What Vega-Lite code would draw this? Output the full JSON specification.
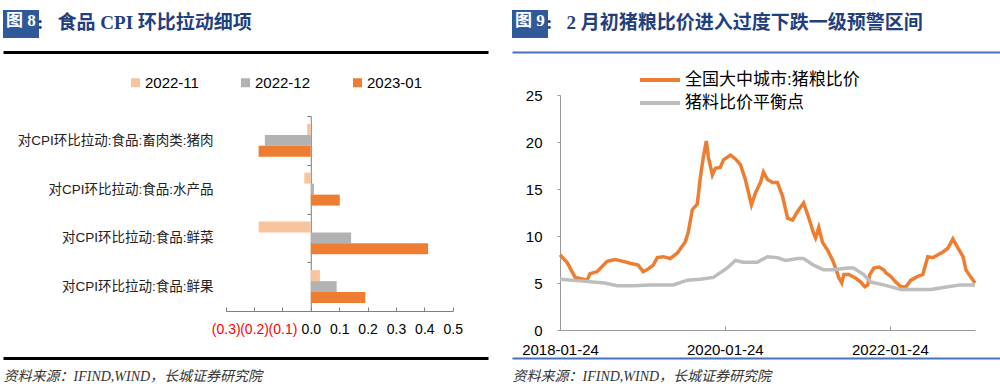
{
  "$schema": "https://vega.github.io/schema/vega-lite/v6.json",
  "background": "white",
  "padding": {"left": 3, "top": 10, "right": 0, "bottom": 0},
  "config": {"view": {"stroke": null}, "font": "Liberation Sans, Noto Sans CJK SC"},
  "resolve": {"scale": {"color": "independent", "shape": "independent"}, "legend": {"color": "independent", "shape": "independent"}},
  "datasets": {
    "bars": [
      {"item": "对CPI环比拉动:食品:畜肉类:猪肉", "period": "2022-11", "value": -0.013},
      {"item": "对CPI环比拉动:食品:畜肉类:猪肉", "period": "2022-12", "value": -0.162},
      {"item": "对CPI环比拉动:食品:畜肉类:猪肉", "period": "2023-01", "value": -0.184},
      {"item": "对CPI环比拉动:食品:水产品", "period": "2022-11", "value": -0.023},
      {"item": "对CPI环比拉动:食品:水产品", "period": "2022-12", "value": 0.011},
      {"item": "对CPI环比拉动:食品:水产品", "period": "2023-01", "value": 0.102},
      {"item": "对CPI环比拉动:食品:鲜菜", "period": "2022-11", "value": -0.184},
      {"item": "对CPI环比拉动:食品:鲜菜", "period": "2022-12", "value": 0.142},
      {"item": "对CPI环比拉动:食品:鲜菜", "period": "2023-01", "value": 0.413},
      {"item": "对CPI环比拉动:食品:鲜果", "period": "2022-11", "value": 0.032},
      {"item": "对CPI环比拉动:食品:鲜果", "period": "2022-12", "value": 0.091},
      {"item": "对CPI环比拉动:食品:鲜果", "period": "2023-01", "value": 0.192}
    ],
    "lines": [
      {"date": "2018-01-24", "series": "全国大中城市:猪粮比价", "value": 8.0},
      {"date": "2018-02-24", "series": "全国大中城市:猪粮比价", "value": 7.2},
      {"date": "2018-04-01", "series": "全国大中城市:猪粮比价", "value": 5.6},
      {"date": "2018-05-06", "series": "全国大中城市:猪粮比价", "value": 5.4},
      {"date": "2018-05-24", "series": "全国大中城市:猪粮比价", "value": 5.3},
      {"date": "2018-06-06", "series": "全国大中城市:猪粮比价", "value": 6.0},
      {"date": "2018-07-07", "series": "全国大中城市:猪粮比价", "value": 6.2},
      {"date": "2018-08-21", "series": "全国大中城市:猪粮比价", "value": 7.3},
      {"date": "2018-09-25", "series": "全国大中城市:猪粮比价", "value": 7.5},
      {"date": "2018-10-31", "series": "全国大中城市:猪粮比价", "value": 7.3},
      {"date": "2018-12-01", "series": "全国大中城市:猪粮比价", "value": 7.1},
      {"date": "2019-01-05", "series": "全国大中城市:猪粮比价", "value": 6.9},
      {"date": "2019-01-28", "series": "全国大中城市:猪粮比价", "value": 6.2},
      {"date": "2019-02-19", "series": "全国大中城市:猪粮比价", "value": 6.5},
      {"date": "2019-03-13", "series": "全国大中城市:猪粮比价", "value": 6.9},
      {"date": "2019-03-31", "series": "全国大中城市:猪粮比价", "value": 7.7},
      {"date": "2019-04-26", "series": "全国大中城市:猪粮比价", "value": 7.8},
      {"date": "2019-05-27", "series": "全国大中城市:猪粮比价", "value": 7.6},
      {"date": "2019-06-28", "series": "全国大中城市:猪粮比价", "value": 8.2},
      {"date": "2019-08-02", "series": "全国大中城市:猪粮比价", "value": 9.4},
      {"date": "2019-08-15", "series": "全国大中城市:猪粮比价", "value": 10.4},
      {"date": "2019-09-02", "series": "全国大中城市:猪粮比价", "value": 12.8},
      {"date": "2019-09-24", "series": "全国大中城市:猪粮比价", "value": 13.4},
      {"date": "2019-10-08", "series": "全国大中城市:猪粮比价", "value": 16.3},
      {"date": "2019-10-21", "series": "全国大中城市:猪粮比价", "value": 18.4},
      {"date": "2019-11-03", "series": "全国大中城市:猪粮比价", "value": 20.1},
      {"date": "2019-11-12", "series": "全国大中城市:猪粮比价", "value": 18.4},
      {"date": "2019-11-30", "series": "全国大中城市:猪粮比价", "value": 16.5},
      {"date": "2019-12-13", "series": "全国大中城市:猪粮比价", "value": 17.2},
      {"date": "2020-01-04", "series": "全国大中城市:猪粮比价", "value": 17.3},
      {"date": "2020-01-18", "series": "全国大中城市:猪粮比价", "value": 18.1},
      {"date": "2020-02-18", "series": "全国大中城市:猪粮比价", "value": 18.6},
      {"date": "2020-03-11", "series": "全国大中城市:猪粮比价", "value": 18.2},
      {"date": "2020-04-02", "series": "全国大中城市:猪粮比价", "value": 17.6},
      {"date": "2020-04-24", "series": "全国大中城市:猪粮比价", "value": 16.0},
      {"date": "2020-05-21", "series": "全国大中城市:猪粮比价", "value": 13.3},
      {"date": "2020-06-08", "series": "全国大中城市:猪粮比价", "value": 14.6},
      {"date": "2020-06-30", "series": "全国大中城市:猪粮比价", "value": 15.7},
      {"date": "2020-07-13", "series": "全国大中城市:猪粮比价", "value": 16.8},
      {"date": "2020-07-31", "series": "全国大中城市:猪粮比价", "value": 16.0},
      {"date": "2020-08-22", "series": "全国大中城市:猪粮比价", "value": 15.7},
      {"date": "2020-09-13", "series": "全国大中城市:猪粮比价", "value": 15.7},
      {"date": "2020-10-06", "series": "全国大中城市:猪粮比价", "value": 14.2},
      {"date": "2020-10-28", "series": "全国大中城市:猪粮比价", "value": 11.9},
      {"date": "2020-11-19", "series": "全国大中城市:猪粮比价", "value": 11.7},
      {"date": "2020-12-11", "series": "全国大中城市:猪粮比价", "value": 12.6},
      {"date": "2021-01-07", "series": "全国大中城市:猪粮比价", "value": 13.5},
      {"date": "2021-01-29", "series": "全国大中城市:猪粮比价", "value": 12.0},
      {"date": "2021-02-20", "series": "全国大中城市:猪粮比价", "value": 10.3},
      {"date": "2021-03-01", "series": "全国大中城市:猪粮比价", "value": 9.8},
      {"date": "2021-03-15", "series": "全国大中城市:猪粮比价", "value": 10.9},
      {"date": "2021-04-01", "series": "全国大中城市:猪粮比价", "value": 9.3},
      {"date": "2021-04-23", "series": "全国大中城市:猪粮比价", "value": 8.5},
      {"date": "2021-05-16", "series": "全国大中城市:猪粮比价", "value": 7.4},
      {"date": "2021-05-29", "series": "全国大中城市:猪粮比价", "value": 6.6},
      {"date": "2021-06-11", "series": "全国大中城市:猪粮比价", "value": 5.6},
      {"date": "2021-06-25", "series": "全国大中城市:猪粮比价", "value": 5.0},
      {"date": "2021-07-04", "series": "全国大中城市:猪粮比价", "value": 5.9},
      {"date": "2021-07-26", "series": "全国大中城市:猪粮比价", "value": 5.9},
      {"date": "2021-08-26", "series": "全国大中城市:猪粮比价", "value": 5.5},
      {"date": "2021-09-17", "series": "全国大中城市:猪粮比价", "value": 5.1},
      {"date": "2021-10-05", "series": "全国大中城市:猪粮比价", "value": 4.6},
      {"date": "2021-10-18", "series": "全国大中城市:猪粮比价", "value": 4.8},
      {"date": "2021-10-27", "series": "全国大中城市:猪粮比价", "value": 5.9},
      {"date": "2021-11-14", "series": "全国大中城市:猪粮比价", "value": 6.6},
      {"date": "2021-12-06", "series": "全国大中城市:猪粮比价", "value": 6.7},
      {"date": "2021-12-28", "series": "全国大中城市:猪粮比价", "value": 6.4},
      {"date": "2022-01-06", "series": "全国大中城市:猪粮比价", "value": 6.1},
      {"date": "2022-01-28", "series": "全国大中城市:猪粮比价", "value": 5.7},
      {"date": "2022-02-19", "series": "全国大中城市:猪粮比价", "value": 5.1},
      {"date": "2022-03-14", "series": "全国大中城市:猪粮比价", "value": 4.6},
      {"date": "2022-04-05", "series": "全国大中城市:猪粮比价", "value": 4.6},
      {"date": "2022-04-27", "series": "全国大中城市:猪粮比价", "value": 5.3},
      {"date": "2022-05-28", "series": "全国大中城市:猪粮比价", "value": 5.7},
      {"date": "2022-06-19", "series": "全国大中城市:猪粮比价", "value": 5.9},
      {"date": "2022-07-11", "series": "全国大中城市:猪粮比价", "value": 7.8},
      {"date": "2022-08-03", "series": "全国大中城市:猪粮比价", "value": 7.7},
      {"date": "2022-08-25", "series": "全国大中城市:猪粮比价", "value": 8.0},
      {"date": "2022-09-16", "series": "全国大中城市:猪粮比价", "value": 8.3},
      {"date": "2022-10-08", "series": "全国大中城市:猪粮比价", "value": 8.7},
      {"date": "2022-10-30", "series": "全国大中城市:猪粮比价", "value": 9.7},
      {"date": "2022-11-22", "series": "全国大中城市:猪粮比价", "value": 8.7},
      {"date": "2022-12-14", "series": "全国大中城市:猪粮比价", "value": 7.8},
      {"date": "2022-12-27", "series": "全国大中城市:猪粮比价", "value": 6.4},
      {"date": "2023-01-18", "series": "全国大中城市:猪粮比价", "value": 5.6},
      {"date": "2023-02-05", "series": "全国大中城市:猪粮比价", "value": 5.0},
      {"date": "2018-01-24", "series": "猪料比价平衡点", "value": 5.4},
      {"date": "2018-05-06", "series": "猪料比价平衡点", "value": 5.2},
      {"date": "2018-08-10", "series": "猪料比价平衡点", "value": 5.0},
      {"date": "2018-10-04", "series": "猪料比价平衡点", "value": 4.7},
      {"date": "2018-12-14", "series": "猪料比价平衡点", "value": 4.7},
      {"date": "2019-02-27", "series": "猪料比价平衡点", "value": 4.8},
      {"date": "2019-06-10", "series": "猪料比价平衡点", "value": 4.8},
      {"date": "2019-08-11", "series": "猪料比价平衡点", "value": 5.3},
      {"date": "2019-10-07", "series": "猪料比价平衡点", "value": 5.4},
      {"date": "2019-12-04", "series": "猪料比价平衡点", "value": 5.6},
      {"date": "2020-02-04", "series": "猪料比价平衡点", "value": 6.6},
      {"date": "2020-03-11", "series": "猪料比价平衡点", "value": 7.4},
      {"date": "2020-04-15", "series": "猪料比价平衡点", "value": 7.2},
      {"date": "2020-06-16", "series": "猪料比价平衡点", "value": 7.2},
      {"date": "2020-07-31", "series": "猪料比价平衡点", "value": 7.8},
      {"date": "2020-09-13", "series": "猪料比价平衡点", "value": 7.7},
      {"date": "2020-10-19", "series": "猪料比价平衡点", "value": 7.4},
      {"date": "2020-12-11", "series": "猪料比价平衡点", "value": 7.6},
      {"date": "2021-01-07", "series": "猪料比价平衡点", "value": 7.6},
      {"date": "2021-02-20", "series": "猪料比价平衡点", "value": 6.9},
      {"date": "2021-04-05", "series": "猪料比价平衡点", "value": 6.4},
      {"date": "2021-05-20", "series": "猪料比价平衡点", "value": 6.4},
      {"date": "2021-07-21", "series": "猪料比价平衡点", "value": 6.6},
      {"date": "2021-08-16", "series": "猪料比价平衡点", "value": 6.6},
      {"date": "2021-09-30", "series": "猪料比价平衡点", "value": 5.9},
      {"date": "2021-10-31", "series": "猪料比价平衡点", "value": 5.1},
      {"date": "2021-12-28", "series": "猪料比价平衡点", "value": 4.8},
      {"date": "2022-03-14", "series": "猪料比价平衡点", "value": 4.3},
      {"date": "2022-05-28", "series": "猪料比价平衡点", "value": 4.3},
      {"date": "2022-07-25", "series": "猪料比价平衡点", "value": 4.3},
      {"date": "2022-10-08", "series": "猪料比价平衡点", "value": 4.6},
      {"date": "2022-12-04", "series": "猪料比价平衡点", "value": 4.8},
      {"date": "2023-02-05", "series": "猪料比价平衡点", "value": 4.8}
    ]
  },
  "spacing": 24,
  "hconcat": [
    {
      "width": 485,
      "height": 306,
      "title": {"text": ":\u00a0\u00a0\u00a0食品 CPI 环比拉动细项", "anchor": "start", "frame": "group", "dx": 34, "offset": -23, "font": "Liberation Serif, Noto Sans CJK SC", "fontSize": 19, "fontWeight": "bold", "color": "#1F3F7F"},
      "data": {"name": "bars"},
      "layer": [
        {
          "mark": {"type": "bar"},
          "encoding": {
            "y": {
              "field": "item", "type": "nominal",
              "sort": ["对CPI环比拉动:食品:畜肉类:猪肉", "对CPI环比拉动:食品:水产品", "对CPI环比拉动:食品:鲜菜", "对CPI环比拉动:食品:鲜果"],
              "scale": {"range": [64, 259], "paddingInner": 0, "paddingOuter": 0},
              "axis": {"title": null, "orient": "left", "offset": -307.8, "tickBand": "extent", "tickSize": 4, "labelPadding": 93.8, "domainColor": "#7F7F7F", "tickColor": "#7F7F7F", "labelFontSize": 13.5, "labelColor": "#222222", "labelLimit": 400, "grid": false}
            },
            "yOffset": {"field": "period", "type": "nominal", "sort": ["2022-11", "2022-12", "2023-01"], "scale": {"paddingInner": 0, "paddingOuter": 0.716}},
            "x": {
              "field": "value", "type": "quantitative",
              "scale": {"domain": [-0.3, 0.5], "range": [222.7, 449.7], "nice": false, "zero": false},
              "axis": {"title": null, "orient": "bottom", "offset": -47, "values": [-0.3, -0.2, -0.1, 0, 0.1, 0.2, 0.3, 0.4, 0.5], "labelExpr": "datum.value < 0 ? '(' + format(-datum.value, '.1f') + ')' : format(datum.value, '.1f')", "labelColor": {"condition": {"test": "datum.value < 0", "value": "#FF0000"}, "value": "#000000"}, "tickSize": -4, "labelPadding": 15, "labelFontSize": 14, "labelOverlap": false, "labelFlush": false, "labelBound": false, "domainColor": "#7F7F7F", "tickColor": "#7F7F7F", "grid": false}
            },
            "color": {
              "field": "period", "type": "nominal",
              "scale": {"domain": ["2022-11", "2022-12", "2023-01"], "range": ["#F8C49E", "#B2B2B2", "#ED7D31"]},
              "legend": {"orient": "none", "legendX": 125, "legendY": 23, "direction": "horizontal", "title": null, "symbolType": "square", "symbolSize": 81, "symbolStrokeWidth": 0, "labelFontSize": 15, "labelColor": "#000000", "labelOffset": 2, "columnPadding": 39, "padding": 0}
            }
          }
        },
        {
          "mark": {"type": "point", "opacity": 0},
          "encoding": {
            "x": {"field": "value", "type": "quantitative", "axis": {"orient": "top", "title": null, "labels": false, "ticks": false, "grid": false, "domainColor": "#000000", "domainWidth": 3}},
            "shape": {"field": "item", "type": "nominal", "legend": {"orient": "none", "legendX": 0, "legendY": -42, "direction": "vertical", "title": "图 8", "titleColor": "#FFFFFF", "titleFont": "Liberation Serif, Noto Sans CJK SC", "titleFontSize": 17, "titleFontWeight": "bold", "titlePadding": 0, "fillColor": "#2F5A9A", "padding": 3, "values": ["对CPI环比拉动:食品:畜肉类:猪肉"], "symbolSize": 0, "symbolOpacity": 0, "labelExpr": "''", "labelFontSize": 0}}
          }
        },
        {
          "mark": {"type": "point", "opacity": 0},
          "encoding": {
            "x": {"field": "value", "type": "quantitative", "axis": {"orient": "bottom", "title": "资料来源：IFIND,WIND，长城证券研究院", "titleAnchor": "start", "titleAlign": "left", "titleFont": "Liberation Serif, Noto Sans CJK SC", "titleFontStyle": "italic", "titleFontWeight": "normal", "titleFontSize": 14, "titleColor": "#333333", "titlePadding": 11, "labels": false, "ticks": false, "grid": false, "domainColor": "#000000", "domainWidth": 3}}
          }
        }
      ],
      "resolve": {"scale": {"x": "independent"}}
    },
    {
      "width": 488,
      "height": 306,
      "title": {"text": ":\u00a0\u00a0\u00a02 月初猪粮比价进入过度下跌一级预警区间", "anchor": "start", "frame": "group", "dx": 34, "offset": -23, "font": "Liberation Serif, Noto Sans CJK SC", "fontSize": 19, "fontWeight": "bold", "color": "#1F3F7F"},
      "data": {"name": "lines"},
      "layer": [
        {
          "mark": {"type": "line", "strokeWidth": 3.5},
          "encoding": {
            "x": {
              "field": "date", "type": "temporal",
              "scale": {"type": "utc", "domain": [{"year": 2018, "month": 1, "date": 24, "utc": true}, {"year": 2023, "month": 2, "date": 5, "utc": true}], "range": [48, 463], "nice": false},
              "axis": {"title": null, "orient": "bottom", "offset": -28, "values": [{"year": 2018, "month": 1, "date": 24, "utc": true}, {"year": 2020, "month": 1, "date": 24, "utc": true}, {"year": 2022, "month": 1, "date": 24, "utc": true}], "labelExpr": "utcFormat(datum.value, '%Y-%m-%d')", "tickSize": -4, "labelPadding": 16, "labelFontSize": 15, "labelColor": "#000000", "labelOverlap": false, "labelFlush": false, "labelBound": false, "domainColor": "#999999", "tickColor": "#999999", "grid": false}
            },
            "y": {
              "field": "value", "type": "quantitative",
              "scale": {"domain": [0, 25], "range": [278, 43], "nice": false},
              "axis": {"title": null, "orient": "left", "offset": -48, "values": [0, 5, 10, 15, 20, 25], "tickSize": 3, "labelPadding": 15, "labelFontSize": 15, "labelColor": "#000000", "domainColor": "#999999", "tickColor": "#999999", "grid": false}
            },
            "color": {
              "field": "series", "type": "nominal",
              "scale": {"domain": ["全国大中城市:猪粮比价", "猪料比价平衡点"], "range": ["#ED7D31", "#BDBDBD"]},
              "legend": {"orient": "none", "legendX": 138, "legendY": 18, "direction": "vertical", "title": null, "symbolType": "M-2.5,0H2.5", "symbolSize": 256, "symbolStrokeWidth": 4, "labelFontSize": 17, "labelLimit": 400, "labelColor": "#000000", "labelOffset": 15, "rowPadding": 5, "padding": 0}
            }
          }
        },
        {
          "mark": {"type": "point", "opacity": 0},
          "encoding": {
            "x": {"field": "value", "type": "quantitative", "axis": {"orient": "top", "title": null, "labels": false, "ticks": false, "grid": false, "domainColor": "#4A72B8", "domainWidth": 2}},
            "shape": {"field": "series", "type": "nominal", "legend": {"orient": "none", "legendX": 0, "legendY": -42, "direction": "vertical", "title": "图 9", "titleColor": "#FFFFFF", "titleFont": "Liberation Serif, Noto Sans CJK SC", "titleFontSize": 17, "titleFontWeight": "bold", "titlePadding": 0, "fillColor": "#2F5A9A", "padding": 3, "values": ["猪料比价平衡点"], "symbolSize": 0, "symbolOpacity": 0, "labelExpr": "''", "labelFontSize": 0}}
          }
        },
        {
          "mark": {"type": "point", "opacity": 0},
          "encoding": {
            "x": {"field": "value", "type": "quantitative", "axis": {"orient": "bottom", "title": "资料来源：IFIND,WIND，长城证券研究院", "titleAnchor": "start", "titleAlign": "left", "titleFont": "Liberation Serif, Noto Sans CJK SC", "titleFontStyle": "italic", "titleFontWeight": "normal", "titleFontSize": 14, "titleColor": "#333333", "titlePadding": 11, "labels": false, "ticks": false, "grid": false, "domainColor": "#4A72B8", "domainWidth": 2}}
          }
        }
      ],
      "resolve": {"scale": {"x": "independent"}}
    }
  ]
}
